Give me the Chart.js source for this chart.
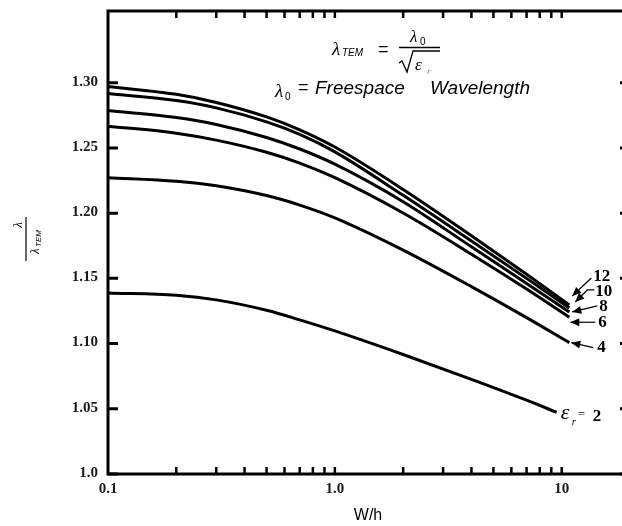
<!DOCTYPE html>
<html>
<head>
<meta charset="utf-8">
<script src="https://cdn.jsdelivr.net/npm/chart.js@4"></script>
<style>
  html, body { margin: 0; padding: 0; background: #fff; overflow: hidden; }
  #wrap { position: absolute; left: 0; top: 0; width: 634px; height: 526px; }
</style>
</head>
<body>
<div id="wrap"><canvas id="chart"></canvas></div>
<script>
// W/h sample points
const wh = [0.1, 0.2, 0.3, 0.5, 0.7, 1, 2, 4, 7, 10.8];
const whEr2 = [0.1, 0.2, 0.3, 0.5, 0.7, 1, 2, 4, 7, 9.5];

// lambda / lambda_TEM for each dielectric constant
const er12 = [1.2971, 1.2911, 1.2849, 1.2738, 1.2639, 1.2507, 1.2182, 1.1827, 1.1531, 1.1296];
const er10 = [1.2917, 1.2863, 1.2807, 1.2700, 1.2604, 1.2470, 1.2137, 1.1787, 1.1500, 1.1273];
const er8  = [1.2787, 1.2733, 1.2680, 1.2580, 1.2492, 1.2376, 1.2088, 1.1742, 1.1460, 1.1243];
const er6  = [1.2667, 1.2613, 1.2560, 1.2467, 1.2384, 1.2272, 1.2001, 1.1685, 1.1418, 1.1202];
const er4  = [1.2272, 1.2245, 1.2210, 1.2135, 1.2062, 1.1964, 1.1717, 1.1437, 1.1199, 1.1007];
const er2  = [1.1388, 1.1370, 1.1335, 1.1255, 1.1182, 1.1097, 1.0916, 1.0726, 1.0566, 1.0473];

const curveLabels = ["12", "10", "8", "6", "4", "2"];

// axis ticks
const yTicks = [1.0, 1.05, 1.10, 1.15, 1.20, 1.25, 1.30];
const yTickLabels = ["1.0", "1.05", "1.10", "1.15", "1.20", "1.25", "1.30"];
const xTicksMajor = [0.1, 1, 10];
const xTickLabels = ["0.1", "1.0", "10"];
const xTicksMinor = [0.2, 0.3, 0.4, 0.5, 0.6, 0.7, 0.8, 0.9, 1, 2, 3, 4, 5, 6, 7, 8, 9, 10];

function pts(xs, ys) {
    return xs.map((x, i) => ({ x: x, y: ys[i] }));
}

const series = [
    pts(wh, er12), pts(wh, er10), pts(wh, er8),
    pts(wh, er6), pts(wh, er4), pts(whEr2, er2)
];

// label arrows: tip offset from curve end, then the path to the text
const arrows = [
    { tip: [3, -9],  path: [[19, -18]],            text: [21, -15] },
    { tip: [6, -6],  path: [[12, -12], [19, -12]], text: [20, -6] },
    { tip: [3, 0],   path: [[25, -6]],             text: [27, -1] },
    { tip: [1, 5],   path: [[25, 0]],              text: [28, 5] },
    { tip: [2, 0],   path: [[22, 5]],              text: [26, 9] }
];

function arrowHead(ctx, x1, y1, x0, y0) {
    const a = Math.atan2(y0 - y1, x0 - x1);
    const len = 9, w = 4;
    ctx.beginPath();
    ctx.moveTo(x0, y0);
    ctx.lineTo(x0 - len * Math.cos(a) + w * Math.sin(a), y0 - len * Math.sin(a) - w * Math.cos(a));
    ctx.lineTo(x0 - len * Math.cos(a) - w * Math.sin(a), y0 - len * Math.sin(a) + w * Math.cos(a));
    ctx.closePath();
    ctx.fill();
}

const decorPlugin = {
    id: "decor",
    afterDraw(chart) {
        const ctx = chart.ctx;
        const xs = chart.scales.x, ys = chart.scales.y;
        const a = chart.chartArea;
        ctx.save();
        ctx.strokeStyle = "#000";
        ctx.fillStyle = "#000";

        // frame
        ctx.lineWidth = 3;
        ctx.strokeRect(a.left, a.top, a.right - a.left, a.bottom - a.top);

        // y ticks, both sides, pointing inward
        ctx.lineWidth = 3;
        yTicks.forEach((v) => {
            const py = ys.getPixelForValue(v);
            ctx.beginPath();
            ctx.moveTo(a.left, py); ctx.lineTo(a.left + 10, py);
            ctx.moveTo(a.right, py); ctx.lineTo(a.right - 10, py);
            ctx.stroke();
        });

        // x ticks, top and bottom
        ctx.lineWidth = 2.5;
        xTicksMinor.forEach((v) => {
            const px = xs.getPixelForValue(v);
            ctx.beginPath();
            ctx.moveTo(px, a.bottom); ctx.lineTo(px, a.bottom - 7);
            ctx.moveTo(px, a.top); ctx.lineTo(px, a.top + 7);
            ctx.stroke();
        });

        // tick labels
        ctx.fillStyle = "#1a1a1a";
        ctx.font = "bold 15px 'Liberation Serif'";
        ctx.textAlign = "right";
        ctx.textBaseline = "middle";
        yTicks.forEach((v, i) => {
            ctx.fillText(yTickLabels[i], a.left - 10, ys.getPixelForValue(v) - 1);
        });
        ctx.textAlign = "center";
        xTicksMajor.forEach((v, i) => {
            ctx.fillText(xTickLabels[i], xs.getPixelForValue(v), a.bottom + 15);
        });

        // x title
        ctx.fillStyle = "#000";
        ctx.font = "16px 'Liberation Sans'";
        ctx.fillText("W/h", 368, 516);

        // y title: lambda over lambda_TEM, rotated
        ctx.save();
        ctx.translate(26, 239);
        ctx.rotate(-Math.PI / 2);
        ctx.lineWidth = 1.2;
        ctx.beginPath();
        ctx.moveTo(-22, 0); ctx.lineTo(22, 0);
        ctx.stroke();
        ctx.textAlign = "center";
        ctx.textBaseline = "alphabetic";
        ctx.font = "italic 13px 'Liberation Serif'";
        ctx.fillText("\u03bb", 14, -4);
        ctx.textAlign = "left";
        ctx.fillText("\u03bb", -15, 13);
        ctx.font = "italic 8px 'Liberation Sans'";
        ctx.fillText("TEM", -8, 15);
        ctx.restore();

        // formula at top
        ctx.textAlign = "left";
        ctx.textBaseline = "alphabetic";
        ctx.font = "italic 19px 'Liberation Serif'";
        ctx.fillText("\u03bb", 332, 55);
        ctx.font = "italic 10px 'Liberation Sans'";
        ctx.fillText("TEM", 342, 56);
        ctx.font = "18px 'Liberation Sans'";
        ctx.textBaseline = "middle";
        ctx.fillText("=", 378, 50);
        ctx.textBaseline = "alphabetic";
        ctx.font = "italic 17px 'Liberation Serif'";
        ctx.fillText("\u03bb", 410, 42);
        ctx.font = "10px 'Liberation Sans'";
        ctx.fillText("0", 420, 45);
        ctx.lineWidth = 1.5;
        ctx.beginPath();
        ctx.moveTo(399, 47.5); ctx.lineTo(440, 47.5);
        ctx.stroke();
        ctx.lineWidth = 1.3;
        ctx.beginPath();
        ctx.moveTo(399, 63); ctx.lineTo(402, 61); ctx.lineTo(407, 72);
        ctx.lineTo(413, 51); ctx.lineTo(440, 51);
        ctx.stroke();
        ctx.font = "italic 17px 'Liberation Serif'";
        ctx.fillText("\u03b5", 415, 70);
        ctx.fillStyle = "#3a9a3a";
        ctx.font = "italic 9px 'Liberation Serif'";
        ctx.fillText("r", 427, 74);
        ctx.fillStyle = "#000";

        ctx.font = "italic 19px 'Liberation Serif'";
        ctx.fillText("\u03bb", 275, 97);
        ctx.font = "10px 'Liberation Sans'";
        ctx.fillText("0", 285, 100);
        ctx.font = "18px 'Liberation Sans'";
        ctx.textBaseline = "middle";
        ctx.fillText("=", 298, 88);
        ctx.textBaseline = "alphabetic";
        ctx.font = "italic 19px 'Liberation Sans'";
        ctx.fillText("Freespace", 315, 94);
        ctx.fillText("Wavelength", 430, 94);

        // curve labels with arrows
        ctx.font = "bold 17px 'Liberation Serif'";
        ctx.lineWidth = 1.2;
        arrows.forEach((ar, i) => {
            const meta = chart.getDatasetMeta(i);
            const end = meta.data[meta.data.length - 1];
            const tx = end.x + ar.tip[0], ty = end.y + ar.tip[1];
            ctx.beginPath();
            ctx.moveTo(tx, ty);
            ar.path.forEach((p) => ctx.lineTo(tx + p[0], ty + p[1]));
            ctx.stroke();
            arrowHead(ctx, tx + ar.path[0][0], ty + ar.path[0][1], tx, ty);
            ctx.fillText(curveLabels[i], tx + ar.text[0], ty + ar.text[1]);
        });

        // epsilon_r = 2
        const m2 = chart.getDatasetMeta(5);
        const e2 = m2.data[m2.data.length - 1];
        ctx.font = "italic 22px 'Liberation Serif'";
        ctx.fillText("\u03b5", e2.x + 4, e2.y + 7);
        ctx.font = "italic 11px 'Liberation Serif'";
        ctx.fillText("r", e2.x + 15, e2.y + 13);
        ctx.font = "13px 'Liberation Serif'";
        ctx.fillText("=", e2.x + 21, e2.y + 6);
        ctx.font = "bold 17px 'Liberation Serif'";
        ctx.fillText(curveLabels[5], e2.x + 36, e2.y + 9);

        ctx.restore();
    }
};

new Chart(document.getElementById("chart"), {
    type: "line",
    data: {
        datasets: series.map((d, i) => ({
            label: curveLabels[i],
            data: d,
            borderColor: "#000",
            borderWidth: 3,
            pointRadius: 0,
            fill: false,
            cubicInterpolationMode: "monotone"
        }))
    },
    options: {
        responsive: true,
        maintainAspectRatio: false,
        animation: false,
        layout: { padding: { left: 108, top: 11, right: 4, bottom: 52 } },
        plugins: { legend: { display: false }, tooltip: { enabled: false } },
        scales: {
            x: { type: "logarithmic", min: 0.1, max: 20, display: false },
            y: { type: "linear", min: 1.0, max: 1.355, display: false }
        }
    },
    plugins: [decorPlugin]
});
</script>
</body>
</html>
